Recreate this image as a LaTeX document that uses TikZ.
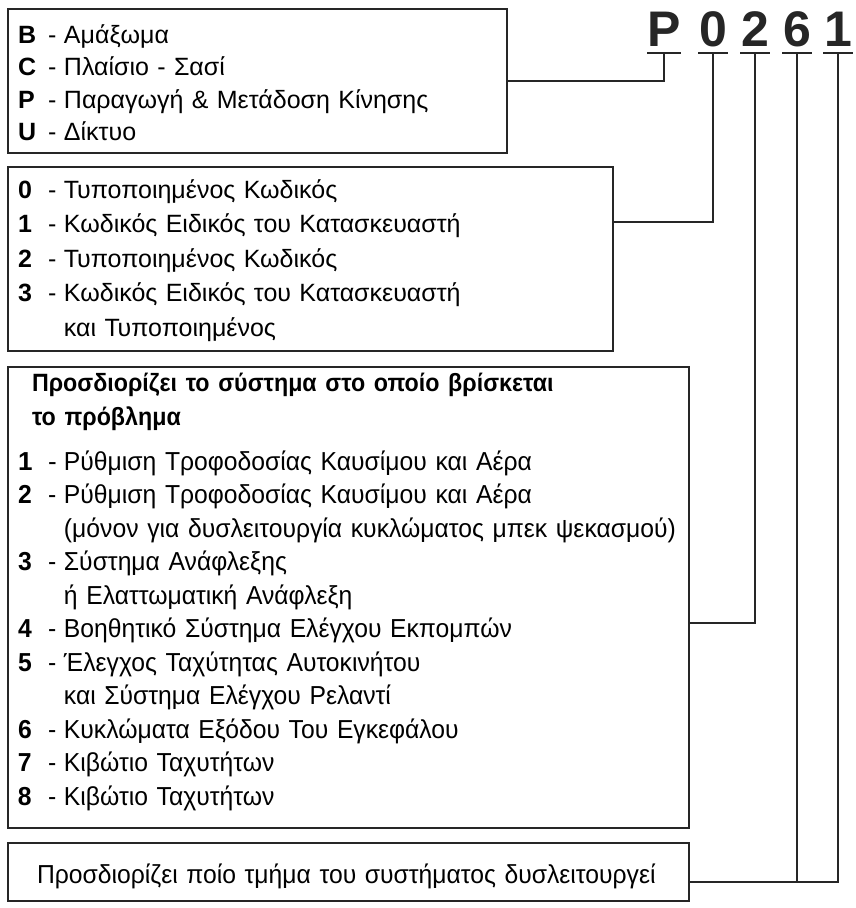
\documentclass[tikz,border=0pt]{standalone}
\usepackage{fontspec}
\setmainfont{Liberation Sans}
\newfontfamily\narrowfont{Liberation Sans}[FakeStretch=0.95]
\newfontfamily\headfont{Liberation Sans}[FakeStretch=0.93]
\usetikzlibrary{positioning}

% code letter, dash, meaning
\newcommand{\code}[2]{\makebox[30pt][l]{\textbf{#1}}\makebox[16pt][l]{-}#2}
\newcommand{\cont}[1]{\hspace*{46pt}#1}

\begin{document}
\begin{tikzpicture}[x=1pt, y=-1pt,
    box/.style={rectangle, draw=black!85, line width=2.8pt, anchor=north west, align=left, outer sep=0pt, inner xsep=10pt, inner ysep=0pt, font=\fontsize{25}{34.5}\selectfont},
    digit/.style={font=\fontsize{50}{50}\selectfont\bfseries, text=black!85, inner sep=0pt, text depth=6pt, minimum width=29pt, anchor=south},
    link/.style={draw=black!85, line width=1.6pt}
]
\useasboundingbox (0,0) rectangle (855,908);

% the code P0261
\node[digit] (dP) at (664,53) {P};
\node[digit] (d0) at (713,53) {0};
\node[digit] (d2) at (755,53) {2};
\node[digit] (d6) at (797,53) {6};
\node[digit] (d1) at (838,53) {1};

% the boxes
\node[box, text width=479pt, minimum width=499pt, minimum height=144pt, font=\fontsize{25}{32.5}\selectfont] (area) at (8,9) {%
    \rule{0pt}{22pt}\code{B}{Αμάξωμα}\\
    \code{C}{Πλαίσιο - Σασί}\\
    \code{P}{Παραγωγή \& Μετάδοση Κίνησης}\\
    \code{U}{Δίκτυο}};
\node[box, text width=585pt, minimum width=605pt, minimum height=184pt] (kind) at (8,167) {%
    \rule{0pt}{22pt}\code{0}{Τυποποιημένος Κωδικός}\\
    \code{1}{Κωδικός Ειδικός του Κατασκευαστή}\\
    \code{2}{Τυποποιημένος Κωδικός}\\
    \code{3}{Κωδικός Ειδικός του Κατασκευαστή}\\
    \cont{και Τυποποιημένος}};
\node[box, text width=661pt, minimum width=681pt, minimum height=461pt, font=\fontsize{26}{33.5}\selectfont] (system) at (8,367) {%
    \hspace*{14pt}{\headfont\bfseries\fontsize{25}{30}\selectfont Προσδιορίζει το σύστημα στο οποίο βρίσκεται}\\[0.5pt]
    \hspace*{14pt}{\headfont\bfseries\fontsize{25}{30}\selectfont το πρόβλημα}\\[11pt]
    \code{1}{\narrowfont Ρύθμιση Τροφοδοσίας Καυσίμου και Αέρα}\\
    \code{2}{\narrowfont Ρύθμιση Τροφοδοσίας Καυσίμου και Αέρα}\\
    \cont{\narrowfont (μόνον για δυσλειτουργία κυκλώματος μπεκ ψεκασμού)}\\
    \code{3}{\narrowfont Σύστημα Ανάφλεξης}\\
    \cont{\narrowfont ή Ελαττωματική Ανάφλεξη}\\
    \code{4}{\narrowfont Βοηθητικό Σύστημα Ελέγχου Εκπομπών}\\
    \code{5}{\narrowfont Έλεγχος Ταχύτητας Αυτοκινήτου}\\
    \cont{\narrowfont και Σύστημα Ελέγχου Ρελαντί}\\
    \code{6}{\narrowfont Κυκλώματα Εξόδου Του Εγκεφάλου}\\
    \code{7}{\narrowfont Κιβώτιο Ταχυτήτων}\\
    \code{8}{\narrowfont Κιβώτιο Ταχυτήτων}\rule[-16pt]{0pt}{16pt}};
\node[box, text width=661pt, minimum width=681pt, minimum height=58pt, font=\fontsize{26}{33.5}\selectfont] (part) at (8,843) {%
    \hspace*{19pt}\rule{0pt}{28pt}{\narrowfont Προσδιορίζει ποίο τμήμα του συστήματος δυσλειτουργεί}};

% heights where the links meet the boxes
\coordinate (y0) at (0,222);
\coordinate (y2) at (0,623);
\coordinate (y1) at (0,882);

% bars under the characters
\foreach \d in {dP,d0,d2,d6,d1}
    \draw[link] (\d.south west) -- (\d.south east);

% links
\draw[link] (dP.south) |- (area.east);
\draw[link] (d0.south) |- (kind.east |- y0);
\draw[link] (d2.south) |- (system.east |- y2);
\draw[link] (d1.south) |- (part.east |- y1);
\draw[link] (d6.south) -- (d6.south |- y1);
\end{tikzpicture}
\end{document}
